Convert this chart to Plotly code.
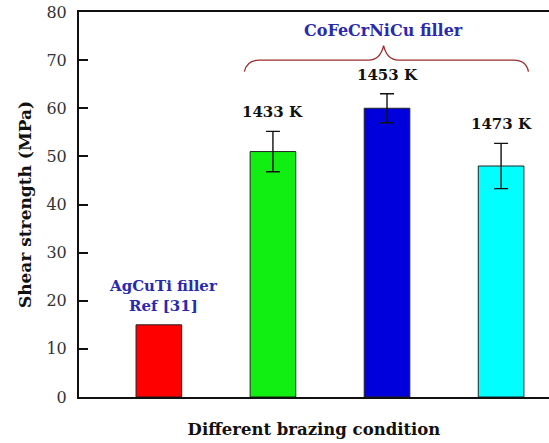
import plotly.graph_objects as go

# Shear strength of joints for each brazing condition
conditions = ["AgCuTi filler Ref [31]", "1433 K", "1453 K", "1473 K"]
strength = [15, 51, 60, 48]
error = [0, 4.2, 3.0, 4.7]
bar_colors = ["#FF0000", "#11EE11", "#0000DD", "#00FFFF"]
temp_labels = ["", "1433 K", "1453 K", "1473 K"]

positions = list(range(len(conditions)))
serif = "DejaVu Serif"
label_blue = "#2A2AB0"

fig = go.Figure()
# Reference joint (single value, no scatter)
fig.add_trace(go.Bar(
    x=positions[:1], y=strength[:1], width=0.40,
    marker=dict(color=bar_colors[:1], line=dict(color="#222222", width=1)),
    showlegend=False,
))
# CoFeCrNiCu filler joints with error bars
fig.add_trace(go.Bar(
    x=positions[1:], y=strength[1:], width=0.40,
    marker=dict(color=bar_colors[1:], line=dict(color="#222222", width=1)),
    error_y=dict(type="data", array=error[1:], visible=True,
                 color="#111111", thickness=1.4, width=7),
    showlegend=False,
))

# Brazing temperature labels above the error bars
for xi, val, err, txt in zip(positions, strength, error, temp_labels):
    if txt:
        fig.add_annotation(x=xi, y=val + err, text=f"<b>{txt}</b>", showarrow=False,
                           yanchor="bottom", yshift=8,
                           font=dict(family=serif, size=15, color="#111111"))

# Reference filler label above the first bar
fig.add_annotation(x=positions[0], y=strength[0], text="<b>AgCuTi filler<br>Ref [31]</b>",
                   showarrow=False, yanchor="bottom", yshift=8, xshift=5, align="center",
                   font=dict(family=serif, size=15, color=label_blue))

# Curly brace grouping the CoFeCrNiCu filler bars
x0, x1 = positions[1] - 0.25, positions[3] + 0.24
xm = positions[2] - 0.03
yb, yh, yt = 67.6, 70.0, 73.0
dx = 0.13
brace = (f"M {x0},{yb} Q {x0 + 0.02},{yh} {x0 + dx},{yh} "
         f"L {xm - dx},{yh} Q {xm - 0.03},{yh} {xm},{yt} "
         f"Q {xm + 0.03},{yh} {xm + dx},{yh} "
         f"L {x1 - dx},{yh} Q {x1 - 0.02},{yh} {x1},{yb}")
fig.add_shape(type="path", path=brace, xref="x", yref="y",
              line=dict(color="#9B2A2A", width=1.3))
fig.add_annotation(x=xm, y=yt, text="<b>CoFeCrNiCu filler</b>", showarrow=False,
                   yanchor="bottom", yshift=4,
                   font=dict(family=serif, size=16, color=label_blue))

fig.update_layout(
    width=549, height=443,
    margin=dict(l=79, r=0, t=12, b=46),
    paper_bgcolor="white", plot_bgcolor="white",
    font=dict(family=serif, color="#111111"),
    xaxis=dict(range=[-0.70, 3.42], showticklabels=False, ticks="",
               showline=True, linecolor="#111111", linewidth=2, mirror=True,
               showgrid=False, zeroline=False,
               title=dict(text="<b>Different brazing condition</b>", standoff=25,
                          font=dict(family=serif, size=16.5, color="#111111"))),
    yaxis=dict(range=[0, 80], dtick=10, ticks="inside", ticklen=9, tickwidth=2,
               tickcolor="#111111", showline=True, linecolor="#111111", linewidth=2,
               showgrid=False, zeroline=False, ticklabelstandoff=7,
               tickfont=dict(family=serif, size=16, color="#333333"),
               title=dict(text="<b>Shear strength (MPa)</b>", standoff=10,
                          font=dict(family=serif, size=17, color="#111111"))),
)

fig.write_html("out.html")
